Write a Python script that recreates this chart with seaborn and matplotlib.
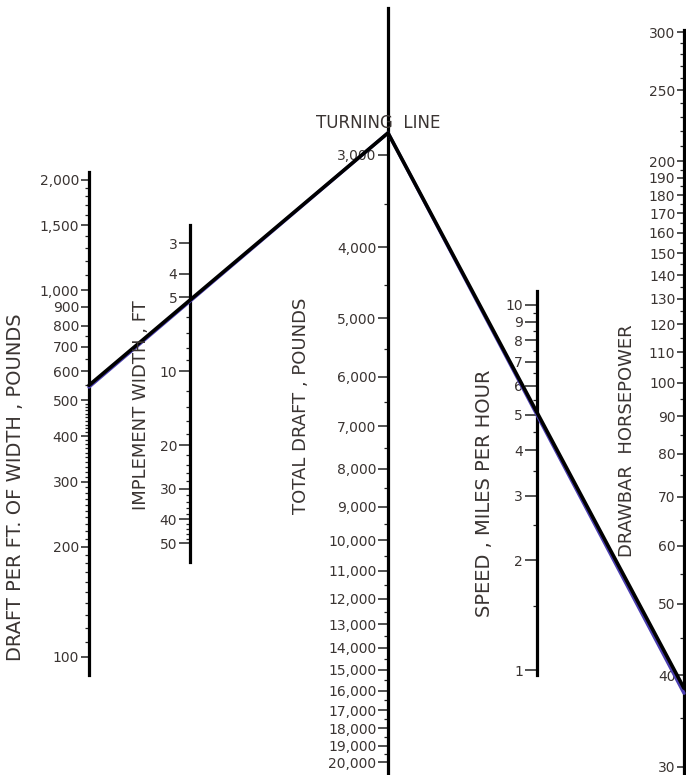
import numpy as np
import matplotlib.pyplot as plt
import matplotlib.ticker as mticker
import seaborn as sns

sns.set_style('white')
plt.rcParams['font.family'] = ['DejaVu Sans']

W, H = 686, 775
ink = '#3a3432'

# ---- scale values ----
draft_ft_major = [100, 200, 300, 400, 500, 600, 700, 800, 900, 1000, 1500, 2000]
draft_ft_labels = ['100', '200', '300', '400', '500', '600', '700', '800', '900',
                   '1,000', '1,500', '2,000']
draft_ft_minor = (list(range(110, 200, 10)) + list(range(210, 300, 10)) +
                  list(range(310, 400, 10)) + list(range(410, 500, 10)) +
                  [550, 650, 750, 1100, 1200, 1300, 1400, 1600, 1700, 1800, 1900])

width_major = [3, 4, 5, 10, 20, 30, 40, 50]
width_labels = ['3', '4', '5', '10', '20', '30', '40', '50']
width_minor = [6, 7, 8, 9, 12, 14, 16, 18, 22, 24, 26, 28,
               32, 34, 36, 38, 42, 44, 46, 48]

total_major = list(range(3000, 21000, 1000))
total_labels = ['{:,}'.format(v) for v in total_major]
total_minor = list(range(3500, 20000, 1000))

speed_major = [1, 2, 3, 4, 5, 6, 7, 8, 9, 10]
speed_labels = [str(v) for v in speed_major]
speed_minor = [1.5, 2.5, 3.5, 4.5, 5.5, 6.5, 7.5, 8.5, 9.5]

hp_major = [30, 40, 50, 60, 70, 80, 90, 100, 110, 120, 130, 140, 150,
            160, 170, 180, 190, 200, 250, 300]
hp_labels = [str(v) for v in hp_major]
hp_minor = [35, 45, 55, 65, 75, 85, 95, 105, 115, 125, 135, 145, 155, 165,
            175, 185, 195, 210, 220, 230, 240, 260, 270, 280, 290]

# ---- worked example ----
sol_draft_ft = 550
sol_width = 5
sol_total = 2800
sol_speed = 5
sol_hp = 38.4

fig = plt.figure(figsize=(6.86, 7.75), dpi=100)
fig.patch.set_facecolor('white')


def make_scale(x, top, bot, cal, major, labels, minor, mlen=6):
    # x, top, bot in pixels; cal = two (value, pixel) pairs for the log scale
    ax = fig.add_axes([x / W, 1 - bot / H, 0.002, (bot - top) / H])
    ax.set_yscale('log')
    (v1, p1), (v2, p2) = cal
    k = (np.log10(v2) - np.log10(v1)) / (p2 - p1)
    vt = 10 ** (np.log10(v1) + k * (top - p1))
    vb = 10 ** (np.log10(v1) + k * (bot - p1))
    ax.set_ylim(vb, vt)
    ax.set_xlim(0, 1)
    for s in ['top', 'right', 'bottom']:
        ax.spines[s].set_visible(False)
    ax.spines['left'].set_linewidth(2.3)
    ax.spines['left'].set_color('black')
    ax.patch.set_visible(False)
    ax.set_xticks([])
    ax.yaxis.set_major_locator(mticker.FixedLocator(major))
    ax.yaxis.set_major_formatter(mticker.FixedFormatter(labels))
    ax.yaxis.set_minor_locator(mticker.FixedLocator(minor))
    ax.yaxis.set_minor_formatter(mticker.NullFormatter())
    ax.tick_params(axis='y', which='major', left=True, direction='out', length=mlen,
                   width=1.1, color='#222222', labelcolor=ink, labelsize=10, pad=1.2)
    ax.tick_params(axis='y', which='minor', left=True, direction='out', length=3,
                   width=0.9, color='#222222')
    return ax


ax_ft = make_scale(89, 172, 675, [(1000, 290), (100, 657)],
                   draft_ft_major, draft_ft_labels, draft_ft_minor)
ax_w = make_scale(190, 225, 562, [(3, 243), (50, 543)],
                  width_major, width_labels, width_minor, mlen=8)
ax_tot = make_scale(388, 8, 775, [(3000, 155), (20000, 762)],
                    total_major, total_labels, total_minor, mlen=7)
ax_sp = make_scale(537, 291, 675, [(10, 305), (1, 670)],
                   speed_major, speed_labels, speed_minor, mlen=9)
ax_hp = make_scale(684, 30, 775, [(300, 32), (30, 767)],
                   hp_major, hp_labels, hp_minor, mlen=5)

# overlay in pixel space for the connecting lines and titles
ov = fig.add_axes([0, 0, 1, 1])
ov.set_xlim(0, W)
ov.set_ylim(H, 0)
ov.axis('off')
ov.patch.set_visible(False)


def pt(ax, v):
    d = ax.transData.transform((0, v))
    return ov.transData.inverted().transform(d)


# faint blue trace under the black line (scan artefact in the original)
blue = np.array([pt(ax_ft, sol_draft_ft - 6), pt(ax_tot, sol_total), pt(ax_hp, sol_hp - 0.6)])
sns.lineplot(x=blue[:, 0], y=blue[:, 1], sort=False, estimator=None, ax=ov,
             color='#4b3fb0', linewidth=2.4)

path = np.array([pt(ax_ft, sol_draft_ft), pt(ax_tot, sol_total), pt(ax_hp, sol_hp)])
sns.lineplot(x=path[:, 0], y=path[:, 1], sort=False, estimator=None, ax=ov,
             color='black', linewidth=2.6)

# axis titles
tkw = dict(rotation=90, ha='center', va='center', color=ink, fontsize=13)
ov.text(16, 487, 'DRAFT PER FT. OF WIDTH , POUNDS', **dict(tkw, fontsize=14))
ov.text(141, 405, 'IMPLEMENT WIDTH , FT', **tkw)
ov.text(301, 406, 'TOTAL DRAFT , POUNDS', **tkw)
ov.text(484, 493, 'SPEED , MILES PER HOUR', **dict(tkw, fontsize=14))
ov.text(627, 441, 'DRAWBAR  HORSEPOWER', **tkw)
ov.text(378, 123, 'TURNING  LINE', ha='center', va='center', color=ink, fontsize=12)

fig.savefig('out.png', dpi=100, facecolor='white')
